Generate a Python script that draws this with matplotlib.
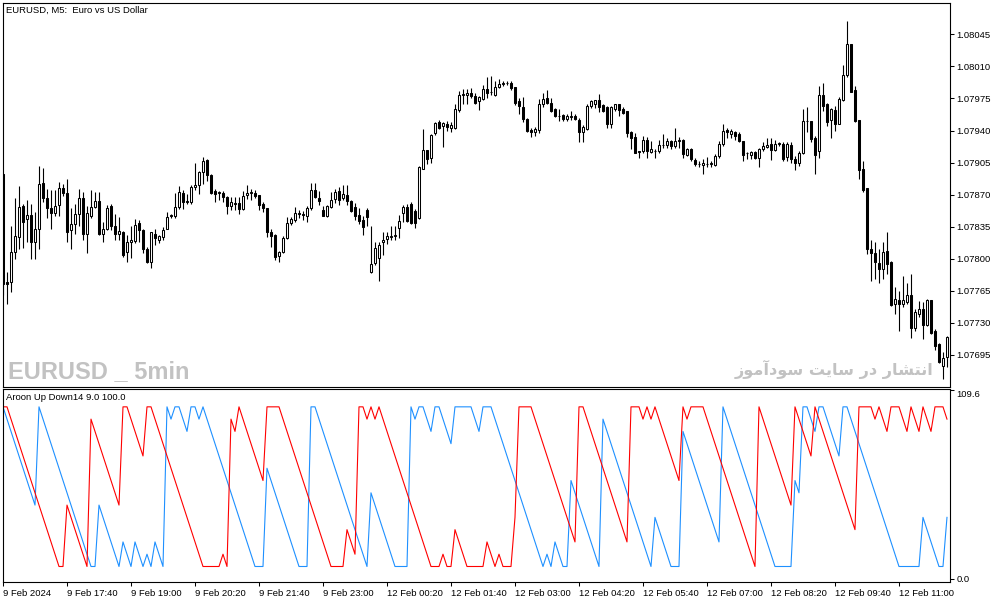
import numpy as np
import pandas as pd
import matplotlib
matplotlib.use('Agg')
import matplotlib.pyplot as plt

plt.rcParams['font.family'] = ['Liberation Sans', 'DejaVu Sans']

# EURUSD M5 candles, prices in points (1 point = 0.00001)
open_pts = [
    107892, 107775, 107775, 107807, 107824, 107858, 107843, 107848, 107818, 107833,
    107883, 107866, 107855, 107850, 107859, 107877, 107872, 107831, 107838, 107849,
    107866, 107827, 107847, 107856, 107863, 107827, 107833, 107858, 107836, 107827,
    107829, 107807, 107818, 107819, 107839, 107831, 107811, 107797, 107827, 107821,
    107824, 107833, 107847, 107847, 107856, 107872, 107862, 107862, 107878, 107880,
    107895, 107908, 107891, 107874, 107872, 107872, 107867, 107858, 107861, 107861,
    107854, 107870, 107872, 107872, 107870, 107860, 107855, 107829, 107826, 107803,
    107807, 107823, 107839, 107842, 107849, 107849, 107847, 107855, 107875, 107866,
    107853, 107847, 107856, 107865, 107874, 107866, 107870, 107863, 107856, 107848,
    107842, 107853, 107786, 107795, 107801, 107818, 107822, 107824, 107825, 107834,
    107850, 107857, 107860, 107852, 107844, 107898, 107919, 107910, 107937, 107949,
    107945, 107947, 107943, 107943, 107962, 107979, 107979, 107981, 107978, 107972,
    107974, 107985, 107982, 107979, 107987, 107991, 107992, 107992, 107987, 107972,
    107966, 107953, 107941, 107938, 107941, 107969, 107975, 107970, 107964, 107956,
    107957, 107953, 107955, 107956, 107952, 107938, 107942, 107967, 107969, 107973,
    107968, 107966, 107947, 107964, 107969, 107964, 107961, 107938, 107933, 107917,
    107918, 107930, 107917, 107918, 107918, 107924, 107924, 107929, 107923, 107929,
    107930, 107913, 107920, 107908, 107904, 107902, 107904, 107904, 107902, 107912,
    107925, 107941, 107936, 107938, 107936, 107929, 107915, 107913, 107917, 107910,
    107920, 107922, 107925, 107919, 107925, 107925, 107911, 107924, 107909, 107905,
    107915, 107950, 107950, 107932, 107918, 107979, 107969, 107951, 107962, 107947,
    107973, 108001, 108034, 107984, 107951, 107898, 107877, 107811, 107806, 107795,
    107789, 107808, 107797, 107751, 107755, 107751, 107753, 107760, 107724, 107740,
    107745, 107728, 107755, 107721, 107707, 107683, 107693]
high_pts = [
    107893, 107786, 107836, 107866, 107879, 107860, 107864, 107860, 107851, 107901,
    107899, 107876, 107875, 107875, 107884, 107882, 107887, 107855, 107860, 107876,
    107873, 107858, 107875, 107873, 107873, 107840, 107859, 107860, 107849, 107846,
    107830, 107826, 107836, 107843, 107842, 107833, 107813, 107829, 107832, 107826,
    107835, 107851, 107849, 107872, 107879, 107875, 107871, 107880, 107905, 107896,
    107911, 107909, 107892, 107876, 107874, 107874, 107869, 107867, 107867, 107867,
    107874, 107881, 107876, 107875, 107870, 107862, 107855, 107833, 107827, 107809,
    107825, 107846, 107846, 107856, 107853, 107852, 107858, 107883, 107883, 107874,
    107858, 107859, 107873, 107876, 107878, 107881, 107880, 107864, 107861, 107855,
    107847, 107855, 107836, 107818, 107818, 107829, 107829, 107836, 107836, 107848,
    107859, 107860, 107862, 107854, 107901, 107942, 107919, 107936, 107949, 107951,
    107949, 107950, 107949, 107969, 107983, 107985, 107985, 107986, 107981, 107978,
    107990, 107998, 107999, 107994, 107996, 107994, 107994, 107994, 107988, 107976,
    107977, 107954, 107943, 107944, 107974, 107981, 107984, 107976, 107965, 107963,
    107958, 107958, 107961, 107958, 107954, 107946, 107969, 107973, 107973, 107980,
    107969, 107967, 107967, 107969, 107969, 107966, 107961, 107939, 107937, 107918,
    107934, 107933, 107929, 107920, 107930, 107936, 107932, 107930, 107943, 107933,
    107931, 107921, 107921, 107910, 107907, 107909, 107911, 107907, 107914, 107929,
    107947, 107943, 107942, 107940, 107938, 107929, 107917, 107918, 107918, 107921,
    107927, 107932, 107932, 107930, 107928, 107927, 107928, 107928, 107912, 107918,
    107963, 107966, 107950, 107934, 107989, 107992, 107970, 107965, 107967, 107977,
    108012, 108059, 108034, 107989, 107951, 107907, 107877, 107821, 107818, 107811,
    107818, 107829, 107798, 107769, 107765, 107781, 107774, 107783, 107745, 107754,
    107753, 107756, 107755, 107723, 107708, 107698, 107716]
low_pts = [
    107760, 107751, 107764, 107800, 107811, 107812, 107818, 107800, 107800, 107811,
    107862, 107844, 107833, 107847, 107847, 107869, 107818, 107811, 107827, 107836,
    107820, 107806, 107844, 107855, 107826, 107818, 107831, 107831, 107820, 107820,
    107802, 107797, 107801, 107817, 107818, 107806, 107795, 107790, 107815, 107817,
    107820, 107832, 107844, 107844, 107854, 107854, 107860, 107860, 107875, 107871,
    107882, 107885, 107871, 107862, 107864, 107862, 107849, 107853, 107853, 107849,
    107853, 107865, 107864, 107866, 107853, 107851, 107824, 107813, 107799, 107797,
    107806, 107822, 107837, 107840, 107845, 107842, 107840, 107853, 107866, 107859,
    107847, 107846, 107855, 107861, 107859, 107864, 107859, 107851, 107842, 107838,
    107826, 107836, 107785, 107793, 107776, 107804, 107816, 107821, 107821, 107823,
    107840, 107840, 107838, 107834, 107843, 107898, 107904, 107905, 107935, 107942,
    107922, 107940, 107938, 107942, 107960, 107969, 107969, 107976, 107969, 107962,
    107973, 107976, 107979, 107978, 107986, 107989, 107990, 107984, 107968, 107958,
    107949, 107938, 107933, 107934, 107937, 107966, 107969, 107960, 107955, 107950,
    107950, 107950, 107952, 107951, 107928, 107928, 107941, 107965, 107965, 107960,
    107960, 107943, 107943, 107961, 107956, 107958, 107933, 107920, 107915, 107910,
    107916, 107910, 107916, 107910, 107916, 107921, 107921, 107920, 107921, 107921,
    107910, 107912, 107907, 107901, 107900, 107892, 107900, 107900, 107901, 107910,
    107923, 107932, 107932, 107930, 107927, 107907, 107909, 107909, 107909, 107900,
    107918, 107921, 107908, 107918, 107923, 107907, 107907, 107905, 107897, 107901,
    107914, 107938, 107927, 107892, 107910, 107961, 107945, 107932, 107939, 107947,
    107972, 107998, 107982, 107949, 107887, 107873, 107805, 107776, 107778, 107774,
    107778, 107783, 107749, 107740, 107721, 107747, 107751, 107714, 107721, 107736,
    107712, 107727, 107718, 107701, 107686, 107669, 107682]
close_pts = [
    107773, 107773, 107807, 107825, 107856, 107840, 107848, 107818, 107833, 107882,
    107866, 107855, 107850, 107858, 107877, 107872, 107829, 107838, 107849, 107866,
    107827, 107850, 107856, 107863, 107827, 107833, 107855, 107836, 107827, 107830,
    107804, 107818, 107820, 107837, 107831, 107811, 107797, 107829, 107823, 107825,
    107831, 107846, 107848, 107856, 107873, 107862, 107863, 107878, 107880, 107895,
    107907, 107891, 107872, 107871, 107873, 107867, 107858, 107862, 107860, 107854,
    107868, 107872, 107873, 107869, 107859, 107855, 107829, 107825, 107802, 107807,
    107823, 107839, 107843, 107850, 107850, 107848, 107855, 107875, 107867, 107863,
    107847, 107858, 107864, 107873, 107864, 107871, 107863, 107852, 107847, 107841,
    107835, 107846, 107794, 107812, 107815, 107821, 107825, 107825, 107826, 107841,
    107857, 107841, 107839, 107839, 107900, 107919, 107909, 107935, 107948, 107943,
    107948, 107944, 107946, 107963, 107979, 107980, 107981, 107978, 107970, 107977,
    107985, 107981, 107982, 107987, 107991, 107992, 107992, 107986, 107970, 107967,
    107953, 107940, 107938, 107942, 107969, 107974, 107970, 107961, 107956, 107956,
    107953, 107956, 107956, 107953, 107938, 107944, 107967, 107972, 107973, 107966,
    107961, 107947, 107966, 107969, 107962, 107959, 107937, 107932, 107916, 107918,
    107930, 107918, 107920, 107918, 107924, 107924, 107929, 107923, 107929, 107930,
    107914, 107920, 107909, 107903, 107904, 107905, 107904, 107905, 107912, 107925,
    107940, 107938, 107939, 107934, 107929, 107913, 107915, 107917, 107910, 107920,
    107923, 107924, 107919, 107925, 107926, 107909, 107925, 107909, 107905, 107915,
    107950, 107950, 107931, 107913, 107979, 107967, 107949, 107963, 107947, 107974,
    108001, 108034, 107982, 107950, 107897, 107875, 107811, 107806, 107796, 107789,
    107807, 107794, 107750, 107756, 107751, 107755, 107760, 107724, 107742, 107745,
    107728, 107755, 107719, 107705, 107687, 107692, 107715]

# sessions: Friday 9 Feb from 16:20, Monday 12 Feb from 00:00
fri_start, fri_bars = '2024-02-09 16:20', 92
mon_start, mon_bars = '2024-02-12 00:00', 145

price_ticks = [1.08045, 1.08010, 1.07975, 1.07940, 1.07905, 1.07870,
               1.07835, 1.07800, 1.07765, 1.07730, 1.07695]
aroon_ticks = [0.0, 109.6]
aroon_period = 14
symbol_title = 'EURUSD, M5:  Euro vs US Dollar'
indicator_title = 'Aroon Up Down14 9.0 100.0'
wm_left = 'EURUSD _ 5min'
# "انتشار در سایت سودآموز" in contextual (presentation) forms, visual order
wm_right = ('\uFEAF\uFEEE\uFEE3\uFE81\uFEA9\uFEEE\uFEB3 '
            '\uFE96\uFBFE\uFE8E\uFEB3 '
            '\uFEAD\uFEA9 '
            '\uFEAD\uFE8E\uFEB8\uFE98\uFEE7\uFE8D')

o = np.array(open_pts) / 1e5
h = np.array(high_pts) / 1e5
l = np.array(low_pts) / 1e5
c = np.array(close_pts) / 1e5
n = len(o)
x = np.arange(n)
times = pd.date_range(fri_start, periods=fri_bars, freq='5min').append(
    pd.date_range(mon_start, periods=mon_bars, freq='5min'))


def aroon(vals, period, take_max):
    res = []
    for i in range(len(vals)):
        win = vals[max(0, i - period + 1):i + 1][::-1]   # newest first
        age = int(np.argmax(win) if take_max else np.argmin(win))
        res.append(100.0 * (period - age) / period)
    return np.array(res)


aroon_up = aroon(h, aroon_period, True)
aroon_dn = aroon(l, aroon_period, False)

W, H = 1003, 603
fig = plt.figure(figsize=(W / 100, H / 100), dpi=100)


def px_rect(x0, y0, x1, y1):
    return [x0 / W, 1 - y1 / H, (x1 - x0) / W, (y1 - y0) / H]


ax = fig.add_axes(px_rect(2.7, 2.7, 950.3, 386.7))
ax2 = fig.add_axes(px_rect(2.7, 389.3, 950.3, 581.7))

# candles
up = c >= o
ax.vlines(x, l, h, color='black', linewidth=0.8, zorder=2)
ax.bar(x, np.abs(c - o), bottom=np.minimum(o, c), width=0.55,
       color=np.where(up, 'white', 'black'), edgecolor='black',
       linewidth=0.75, zorder=3)
ax.set_xlim(-0.075, n - 1 + 0.83)
ax.set_ylim(1.076604, 1.080795)
ax.set_yticks(price_ticks)
ax.set_yticklabels(['%.5f' % v for v in price_ticks])
ax.set_xticks([])

# aroon
ax2.plot(x, aroon_up, color='#1E90FF', linewidth=0.8)
ax2.plot(x, aroon_dn, color='#FF0000', linewidth=0.8)
ax2.set_xlim(ax.get_xlim())
ax2.set_ylim(-1.7, 110.2)
ax2.set_yticks(aroon_ticks)
ax2.set_yticklabels(['%.1f' % v for v in aroon_ticks])

tick_idx = list(range(0, n, 16))
tick_lab = []
for k in tick_idx:
    t = times[k]
    if k == 0:
        tick_lab.append('%d %s' % (t.day, t.strftime('%b %Y')))
    else:
        tick_lab.append('%d %s' % (t.day, t.strftime('%b %H:%M')))
ax2.set_xticks(tick_idx)
ax2.set_xticklabels(tick_lab, ha='left')

for a in (ax, ax2):
    a.yaxis.tick_right()
    a.tick_params(axis='y', direction='out', length=3, width=0.75,
                  pad=1.5, labelsize=6.8, colors='black')
    for s in a.spines.values():
        s.set_linewidth(0.8)
        s.set_color('black')
ax2.tick_params(axis='x', direction='out', length=3, width=0.75,
                pad=2, labelsize=6.8)
# top label of the indicator scale sits just under its tick
ax2.yaxis.get_major_ticks()[1].label2.set_verticalalignment('top')

# texts
fig.text(6 / W, 1 - 10 / H, symbol_title, ha='left', va='center', fontsize=6.8)
fig.text(6 / W, 1 - 398 / H, indicator_title, ha='left', va='center', fontsize=6.8)
ax.text(8 / W, 1 - 378 / H, wm_left, transform=fig.transFigure, ha='left',
        va='baseline', fontsize=17, fontweight='bold', color='#c2c2c2',
        family=['Liberation Sans'], zorder=1)
ax.text(933 / W, 1 - 375 / H, wm_right, transform=fig.transFigure, ha='right',
        va='baseline', fontsize=11.6, fontweight='bold', color='#c2c2c2',
        family=['DejaVu Sans'], zorder=1)

fig.savefig('out.png', dpi=100)
